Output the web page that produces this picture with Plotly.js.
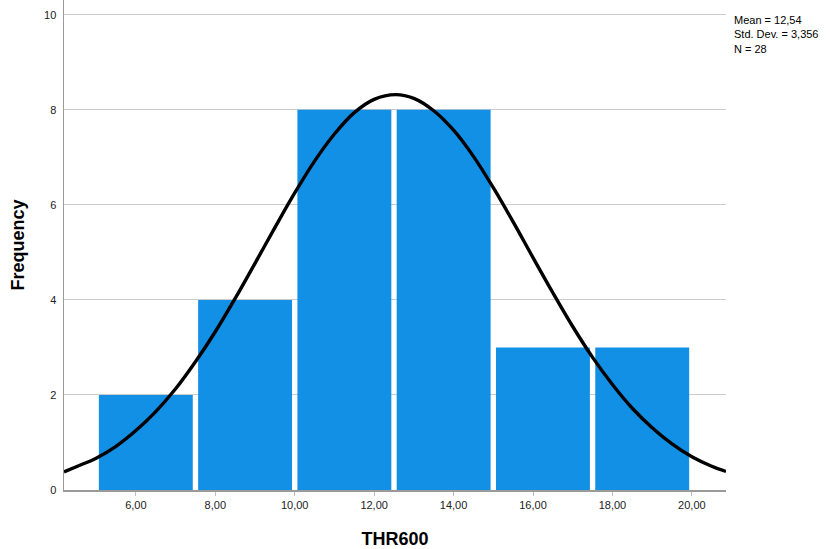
<!DOCTYPE html>
<html>
<head>
<meta charset="utf-8">
<script src="https://cdn.plot.ly/plotly-3.0.1.min.js"></script>
<style>html,body{margin:0;padding:0;background:#fff;}#chart{width:830px;height:549px;}</style>
</head>
<body>
<div id="chart"></div>
<script>
// Histogram bins (THR600)
const binStarts = [5, 7.5, 10, 12.5, 15, 17.5];
const binWidth = 2.5;
const frequencies = [2, 4, 8, 8, 3, 3];

// Normal curve points
const curveX = [4.19, 4.5, 5, 5.5, 6, 6.5, 7, 7.5, 8, 8.5, 9, 9.5, 10, 10.5, 11, 11.5, 12, 12.54, 13, 13.5, 14, 14.5, 15, 15.5, 16, 16.5, 17, 17.5, 18, 18.5, 19, 19.5, 20, 20.5, 20.86];
const curveY = [0.38, 0.49, 0.67, 0.92, 1.25, 1.65, 2.13, 2.70, 3.33, 4.03, 4.77, 5.52, 6.25, 6.92, 7.49, 7.94, 8.22, 8.32, 8.24, 7.98, 7.57, 7.02, 6.36, 5.64, 4.89, 4.15, 3.44, 2.79, 2.22, 1.72, 1.31, 0.97, 0.70, 0.50, 0.39];

const xTickVals = [6, 8, 10, 12, 14, 16, 18, 20];
const xTickText = ["6,00", "8,00", "10,00", "12,00", "14,00", "16,00", "18,00", "20,00"];
const yTickVals = [0, 2, 4, 6, 8, 10];

const statsLines = ["Mean = 12,54", "Std. Dev. = 3,356", "N = 28"];

const font = "Liberation Sans, Arial, sans-serif";

const bars = {
  type: "bar",
  x: binStarts.map(s => s + binWidth / 2),
  y: frequencies,
  width: binStarts.map(() => binWidth * 0.946),
  marker: { color: "#1290e6", line: { width: 0 } },
  hoverinfo: "skip"
};

const curve = {
  type: "scatter",
  mode: "lines",
  x: curveX,
  y: curveY,
  line: { color: "#000000", width: 3.4, shape: "spline", smoothing: 1.0 },
  hoverinfo: "skip"
};

const layout = {
  width: 830,
  height: 549,
  margin: { l: 64, r: 104, t: 0, b: 59 },
  paper_bgcolor: "#ffffff",
  plot_bgcolor: "#ffffff",
  showlegend: false,
  font: { family: font, size: 11, color: "#000" },
  xaxis: {
    range: [4.19, 20.86],
    tickvals: xTickVals,
    ticktext: xTickText,
    ticks: "outside",
    ticklen: 4,
    tickcolor: "#bdbdbd",
    showgrid: false,
    zeroline: false,
    showline: true,
    linecolor: "#9a9a9a",
    linewidth: 1.5,
    tickfont: { family: font, size: 11, color: "#222" },
    title: { text: "<b>THR600</b>", font: { family: font, size: 18, color: "#000" }, standoff: 22 }
  },
  yaxis: {
    range: [0, 10.31],
    tickvals: yTickVals,
    ticks: "",
    showgrid: true,
    gridcolor: "#cccccc",
    gridwidth: 1,
    zeroline: false,
    showline: true,
    linecolor: "#9a9a9a",
    linewidth: 1.5,
    ticklabelstandoff: 4,
    tickfont: { family: font, size: 11, color: "#222" },
    title: { text: "<b>Frequency</b>", font: { family: font, size: 18, color: "#000" }, standoff: 14 }
  },
  annotations: [{
    xref: "paper", yref: "paper",
    x: 1, y: 0.975,
    xanchor: "left", yanchor: "top",
    xshift: 6,
    align: "left",
    showarrow: false,
    text: statsLines.join("<br>"),
    font: { family: font, size: 11, color: "#000" }
  }]
};

Plotly.newPlot("chart", [bars, curve], layout, { displayModeBar: false, staticPlot: true });
</script>
</body>
</html>
